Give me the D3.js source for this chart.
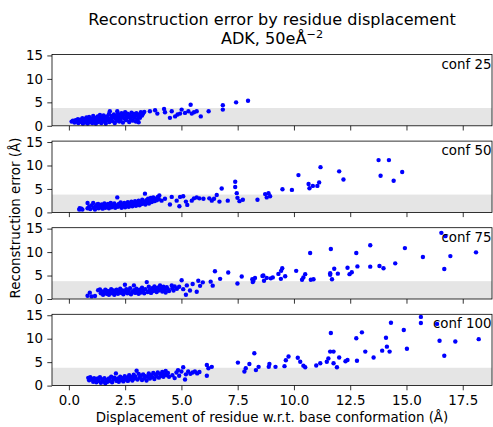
<!DOCTYPE html>
<html><head><meta charset="utf-8">
<script src="https://cdn.jsdelivr.net/npm/d3@7"></script>
<style>body{margin:0;background:#fff}svg{display:block;font-family:"DejaVu Sans",sans-serif}</style>
</head><body>
<svg id="c" width="493" height="427"></svg>
<script>
const panelLabels = ["conf 25","conf 50","conf 75","conf 100"];
const xTicks = [0,2.5,5,7.5,10,12.5,15,17.5];
const yTicks = [0,5,10,15];
const bandTop = 3.8;

const conf25 = [[0.12,0.9],[0.18,1.1],[0.25,0.7],[0.3,1.2],[0.35,0.9],[0.4,1.4],[0.42,0.6],[0.48,1.0],[0.52,1.3],[0.55,0.8],[0.6,1.6],[0.62,0.5],[0.66,1.1],[0.7,1.4],[0.72,0.7],[0.78,1.8],[0.8,1.0],[0.84,0.5],[0.88,1.3],[0.9,1.9],[0.94,0.8],[0.98,1.5],[1.0,1.1],[1.04,0.6],[1.08,2.1],[1.1,1.4],[1.14,0.9],[1.18,1.7],[1.2,0.5],[1.24,1.2],[1.28,2.0],[1.3,0.8],[1.34,1.5],[1.38,2.3],[1.4,1.0],[1.44,0.6],[1.48,1.8],[1.5,1.3],[1.54,2.2],[1.58,0.9],[1.6,1.6],[1.64,0.5],[1.68,2.0],[1.7,1.2],[1.74,1.7],[1.78,2.5],[1.8,0.8],[1.82,3.1],[1.86,1.4],[1.9,2.1],[1.94,1.0],[1.98,1.8],[2.0,2.4],[2.04,0.6],[2.08,1.5],[2.1,2.0],[2.14,1.1],[2.15,3.1],[2.18,2.6],[2.2,1.7],[2.24,0.9],[2.28,2.2],[2.3,1.4],[2.34,2.7],[2.38,1.9],[2.4,0.7],[2.44,2.4],[2.48,1.6],[2.5,2.9],[2.54,1.2],[2.58,2.1],[2.6,2.6],[2.64,1.8],[2.68,0.8],[2.7,2.3],[2.74,1.5],[2.78,2.8],[2.8,2.0],[2.84,1.1],[2.88,2.5],[2.9,1.7],[2.94,2.2],[2.98,0.9],[3.0,2.7],[3.04,1.4],[3.05,1.0],[3.08,2.0],[3.1,0.75],[3.12,2.4],[3.16,1.7],[3.2,2.9],[3.25,2.2],[3.3,2.6],
[3.35,2.97],[3.6,3.1],[3.83,3.3],[3.93,2.6],[4.23,3.6],[4.27,2.9],[4.49,1.7],[4.57,3.1],[4.72,2.0],[4.83,2.4],[4.94,2.6],[5.01,3.45],[5.16,2.75],[5.31,3.1],[5.41,4.5],[5.46,2.6],[5.56,2.9],[5.68,3.1],[5.86,2.0],[6.21,3.1],[6.84,4.4],[6.84,3.45],[7.43,5.0],[7.96,5.35]];

const conf50 = [[0.46,0.6],[0.48,0.9],[0.52,0.7],[0.56,0.8],[0.6,0.6],[0.83,2.0],[0.83,0.9],[0.9,1.2],[0.95,0.7],[1.0,1.5],[1.08,2.0],[1.1,1.0],[1.16,0.6],[1.2,1.3],[1.25,1.7],[1.3,1.8],[1.32,0.9],[1.38,1.4],[1.42,1.1],[1.46,1.7],[1.5,0.8],[1.54,1.3],[1.58,1.9],[1.62,1.0],[1.66,1.5],[1.7,1.2],[1.74,1.8],[1.78,0.9],[1.82,1.4],[1.86,2.0],[1.9,1.1],[1.94,1.6],[1.98,1.3],[2.02,1.9],[2.06,1.0],[2.1,1.5],[2.15,3.2],[2.18,1.2],[2.22,1.8],[2.26,1.4],[2.3,2.1],[2.34,1.0],[2.38,1.6],[2.42,1.3],[2.46,2.0],[2.5,1.1],[2.54,1.7],[2.58,1.4],[2.62,2.2],[2.66,1.2],[2.7,1.8],[2.74,1.5],[2.78,2.3],[2.82,1.3],[2.86,1.9],[2.9,1.6],[2.94,2.4],[2.98,1.4],[3.02,2.0],[3.06,1.7],[3.1,2.5],[3.14,1.5],[3.18,2.2],[3.22,1.8],[3.26,2.7],[3.3,1.9],[3.34,2.3],[3.38,4.0],[3.4,1.7],[3.44,2.6],[3.48,2.1],[3.52,2.9],[3.56,1.9],[3.6,2.4],[3.64,3.1],[3.68,2.2],[3.72,2.7],[3.75,3.2],[3.8,2.4],[3.85,2.9],[3.9,2.6],[3.95,3.3],[4.0,2.8],[4.02,3.6],
[4.12,2.5],[4.27,2.9],[4.49,1.7],[4.57,3.3],[4.79,2.5],[4.91,1.3],[4.94,3.3],[5.08,3.45],[5.2,2.3],[5.26,1.6],[5.46,2.5],[5.56,3.0],[5.68,3.2],[5.8,3.0],[5.98,2.9],[6.24,3.0],[6.35,2.5],[6.45,2.9],[6.57,3.7],[6.69,2.3],[6.79,5.1],[7.06,2.5],[7.39,6.55],[7.39,5.4],[7.46,4.1],[7.49,3.1],[7.58,2.4],[7.73,2.7],[8.38,2.7],[8.72,3.9],[8.79,3.2],[8.87,4.1],[8.94,3.45],[9.49,4.95],[9.91,4.8],[10.2,7.95],[10.65,6.05],[10.69,5.15],[10.84,5.65],[11.04,5.65],[11.12,6.4],[11.18,9.65],[12.01,8.75],[12.2,7.0],[13.76,11.15],[13.85,7.8],[14.22,11.15],[14.43,6.75],[14.81,8.6]];

const conf75 = [[0.83,0.7],[0.93,1.35],[1.01,0.55],[1.16,0.65],[1.3,1.85],[1.38,2.05],[1.42,1.2],[1.48,1.6],[1.52,0.9],[1.58,1.4],[1.62,2.0],[1.68,1.1],[1.72,1.7],[1.78,0.9],[1.82,1.5],[1.88,2.1],[1.92,1.2],[1.98,1.8],[2.02,0.9],[2.08,1.4],[2.12,2.0],[2.18,1.1],[2.22,1.6],[2.28,2.2],[2.32,1.3],[2.38,1.8],[2.42,1.0],[2.49,3.05],[2.5,1.5],[2.55,2.1],[2.6,1.2],[2.66,1.7],[2.72,2.3],[2.76,1.0],[2.82,1.5],[2.89,2.9],[2.9,1.9],[2.95,1.3],[3.0,2.2],[3.05,1.6],[3.1,1.1],[3.15,2.0],[3.2,1.4],[3.25,2.4],[3.3,1.7],[3.35,1.2],[3.4,2.1],[3.46,3.6],[3.5,1.5],[3.55,2.6],[3.6,1.9],[3.65,1.3],[3.7,2.3],[3.75,1.7],[3.8,2.7],[3.85,2.0],[3.9,1.5],[3.95,2.4],[4.0,1.8],[4.05,2.9],[4.1,2.2],[4.15,1.6],[4.2,2.6],[4.25,2.0],[4.3,1.4],[4.35,2.5],[4.4,2.1],[4.45,1.7],[4.57,2.9],[4.6,2.3],[4.65,1.8],[4.7,2.7],[4.8,2.2],[4.9,2.6],
[5.01,4.0],[5.08,2.1],[5.2,0.9],[5.24,2.9],[5.38,1.8],[5.5,3.2],[5.68,1.55],[5.75,3.9],[5.83,2.8],[5.95,3.55],[6.3,3.7],[6.39,2.85],[6.49,5.9],[6.72,4.3],[7.08,5.65],[7.49,3.3],[7.68,4.8],[8.15,4.2],[8.17,3.6],[8.2,3.9],[8.27,4.5],[8.6,4.9],[8.64,5.0],[8.67,3.9],[8.79,4.5],[8.97,4.4],[9.06,4.6],[9.31,5.35],[9.42,4.3],[9.43,6.0],[9.48,6.55],[9.61,4.85],[10.1,6.0],[10.36,4.1],[10.42,4.6],[10.5,5.3],[10.72,9.8],[10.75,4.1],[10.87,4.2],[11.61,5.5],[11.61,5.15],[11.64,10.65],[11.69,4.2],[11.79,6.45],[11.95,5.4],[12.38,6.65],[12.47,5.3],[12.57,5.7],[12.77,9.8],[12.82,6.95],[13.39,11.45],[13.39,6.9],[13.8,7.05],[13.98,6.55],[14.5,7.6],[14.93,10.85],[15.73,8.95],[16.55,14.1],[16.68,6.4],[16.73,13.4],[16.95,9.15],[18.09,9.95]];

const conf100 = [[0.86,1.65],[0.9,1.15],[0.95,1.8],[1.0,1.4],[1.08,0.8],[1.12,1.6],[1.18,1.2],[1.22,0.7],[1.28,1.5],[1.32,1.0],[1.38,1.8],[1.42,0.6],[1.48,1.3],[1.52,0.9],[1.58,1.6],[1.62,0.5],[1.68,1.2],[1.72,0.8],[1.78,1.5],[1.82,1.0],[1.88,1.9],[1.92,0.7],[1.98,1.3],[2.02,1.7],[2.09,2.6],[2.12,1.0],[2.18,1.5],[2.22,0.8],[2.28,1.9],[2.32,1.2],[2.38,1.6],[2.42,0.9],[2.48,2.0],[2.52,1.3],[2.58,1.7],[2.62,1.0],[2.68,2.2],[2.72,1.4],[2.78,1.8],[2.82,1.1],[2.88,2.3],[2.92,1.5],[2.96,1.9],[3.01,3.15],[3.05,1.3],[3.1,2.5],[3.15,1.7],[3.2,2.1],[3.25,1.2],[3.3,2.4],[3.35,1.6],[3.4,2.0],[3.45,1.1],[3.5,1.9],[3.55,2.6],[3.6,1.5],[3.65,2.2],[3.7,1.8],[3.75,2.7],[3.8,1.4],[3.85,2.3],[3.9,2.0],[3.95,2.8],[4.0,1.7],[4.05,2.5],[4.1,2.1],[4.15,2.9],[4.2,1.9],[4.25,2.4],[4.3,3.1],[4.35,2.2],[4.4,2.7],[4.45,1.9],[4.6,2.2],[4.7,1.6],[4.78,2.8],[4.85,3.3],[4.9,2.1],[5.0,3.0],[5.08,3.9],[5.16,1.3],[5.2,2.4],[5.3,3.0],[5.4,2.5],[5.5,2.8],[5.6,3.0],[5.7,2.6],[5.8,2.9],[6.13,4.4],[6.13,2.1],[6.2,3.7],[6.35,4.0],
[7.51,4.9],[7.8,3.0],[7.86,3.7],[8.02,4.6],[8.24,6.9],[8.31,3.3],[8.43,4.0],[8.88,4.0],[8.91,4.6],[9.18,4.0],[9.58,4.15],[9.64,5.4],[9.76,6.2],[10.17,5.95],[10.28,5.1],[10.42,4.25],[10.5,3.9],[10.99,4.3],[11.17,4.75],[11.46,5.1],[11.53,5.8],[11.61,7.25],[11.64,11.2],[11.76,7.25],[11.76,4.75],[11.91,3.9],[12.01,6.0],[12.29,5.2],[12.38,5.45],[12.77,10.1],[12.8,5.3],[13.02,11.35],[13.17,7.25],[13.54,6.0],[13.92,7.45],[14.09,10.2],[14.13,8.3],[14.25,7.25],[14.31,13.4],[14.88,11.85],[15.02,7.85],[15.64,14.65],[15.64,13.35],[16.36,13.15],[16.47,9.55],[16.68,6.35],[17.17,9.4],[18.21,9.9]];

const panels = [conf25, conf50, conf75, conf100];

const svg = d3.select("#c");
const left = 52, right = 492;
const top0 = 54.5, step = 86.6, ph = 71.3;
const fs = 13.4;
const x = d3.scaleLinear().domain([-0.75, 18.8]).range([left, right]);

panels.forEach((data, i) => {
  const t = top0 + i * step;
  const y = d3.scaleLinear().domain([0, 15.2]).range([t + ph, t]);
  const g = svg.append("g");
  g.append("rect").attr("x", left).attr("width", right - left)
    .attr("y", y(bandTop)).attr("height", y(0) - y(bandTop)).attr("fill", "#e5e5e5");
  g.selectAll("circle").data(data).join("circle")
    .attr("cx", d => x(d[0])).attr("cy", d => y(d[1])).attr("r", 2.2).attr("fill", "#0000ff");
  const ya = d3.axisLeft(y).tickValues(yTicks).tickSize(4.7).tickPadding(4.2).tickFormat(d3.format("d"));
  const yg = g.append("g").attr("transform", `translate(${left},0)`).call(ya);
  const xa = d3.axisBottom(x).tickValues(xTicks).tickSize(4.7).tickPadding(4.7).tickFormat(d3.format(".1f"));
  const xg = g.append("g").attr("transform", `translate(0,${t + ph})`).call(xa);
  if (i < 3) xg.selectAll("text").remove();
  [yg, xg].forEach(a => {
    a.select(".domain").remove();
    a.selectAll("text").attr("font-size", fs).attr("fill", "#000").attr("font-family", "DejaVu Sans");
    a.selectAll("line").attr("stroke", "#000").attr("stroke-width", 0.8);
  });
  g.append("rect").attr("x", left).attr("y", t).attr("width", right - left).attr("height", ph)
    .attr("fill", "none").attr("stroke", "#000").attr("stroke-width", 0.8);
  g.append("text").attr("x", right - 0.5).attr("y", t + 14).attr("text-anchor", "end")
    .attr("font-size", fs).text(panelLabels[i]);
});

svg.append("text").attr("x", (left + right) / 2).attr("y", 25).attr("text-anchor", "middle")
  .attr("font-size", 16.1).text("Reconstruction error by residue displacement");
const t2 = svg.append("text").attr("x", (left + right) / 2).attr("y", 44).attr("text-anchor", "middle")
  .attr("font-size", 16.1);
t2.append("tspan").text("ADK, 50eÅ");
t2.append("tspan").attr("dy", -6.5).attr("font-size", 11.3).text("−2");

svg.append("text").attr("x", (left + right) / 2).attr("y", 422).attr("text-anchor", "middle")
  .attr("font-size", fs).text("Displacement of residue w.r.t. base conformation (Å)");
svg.append("text").attr("transform", "translate(20,218) rotate(-90)").attr("text-anchor", "middle")
  .attr("font-size", fs).text("Reconstruction error (Å)");
</script>
</body></html>
